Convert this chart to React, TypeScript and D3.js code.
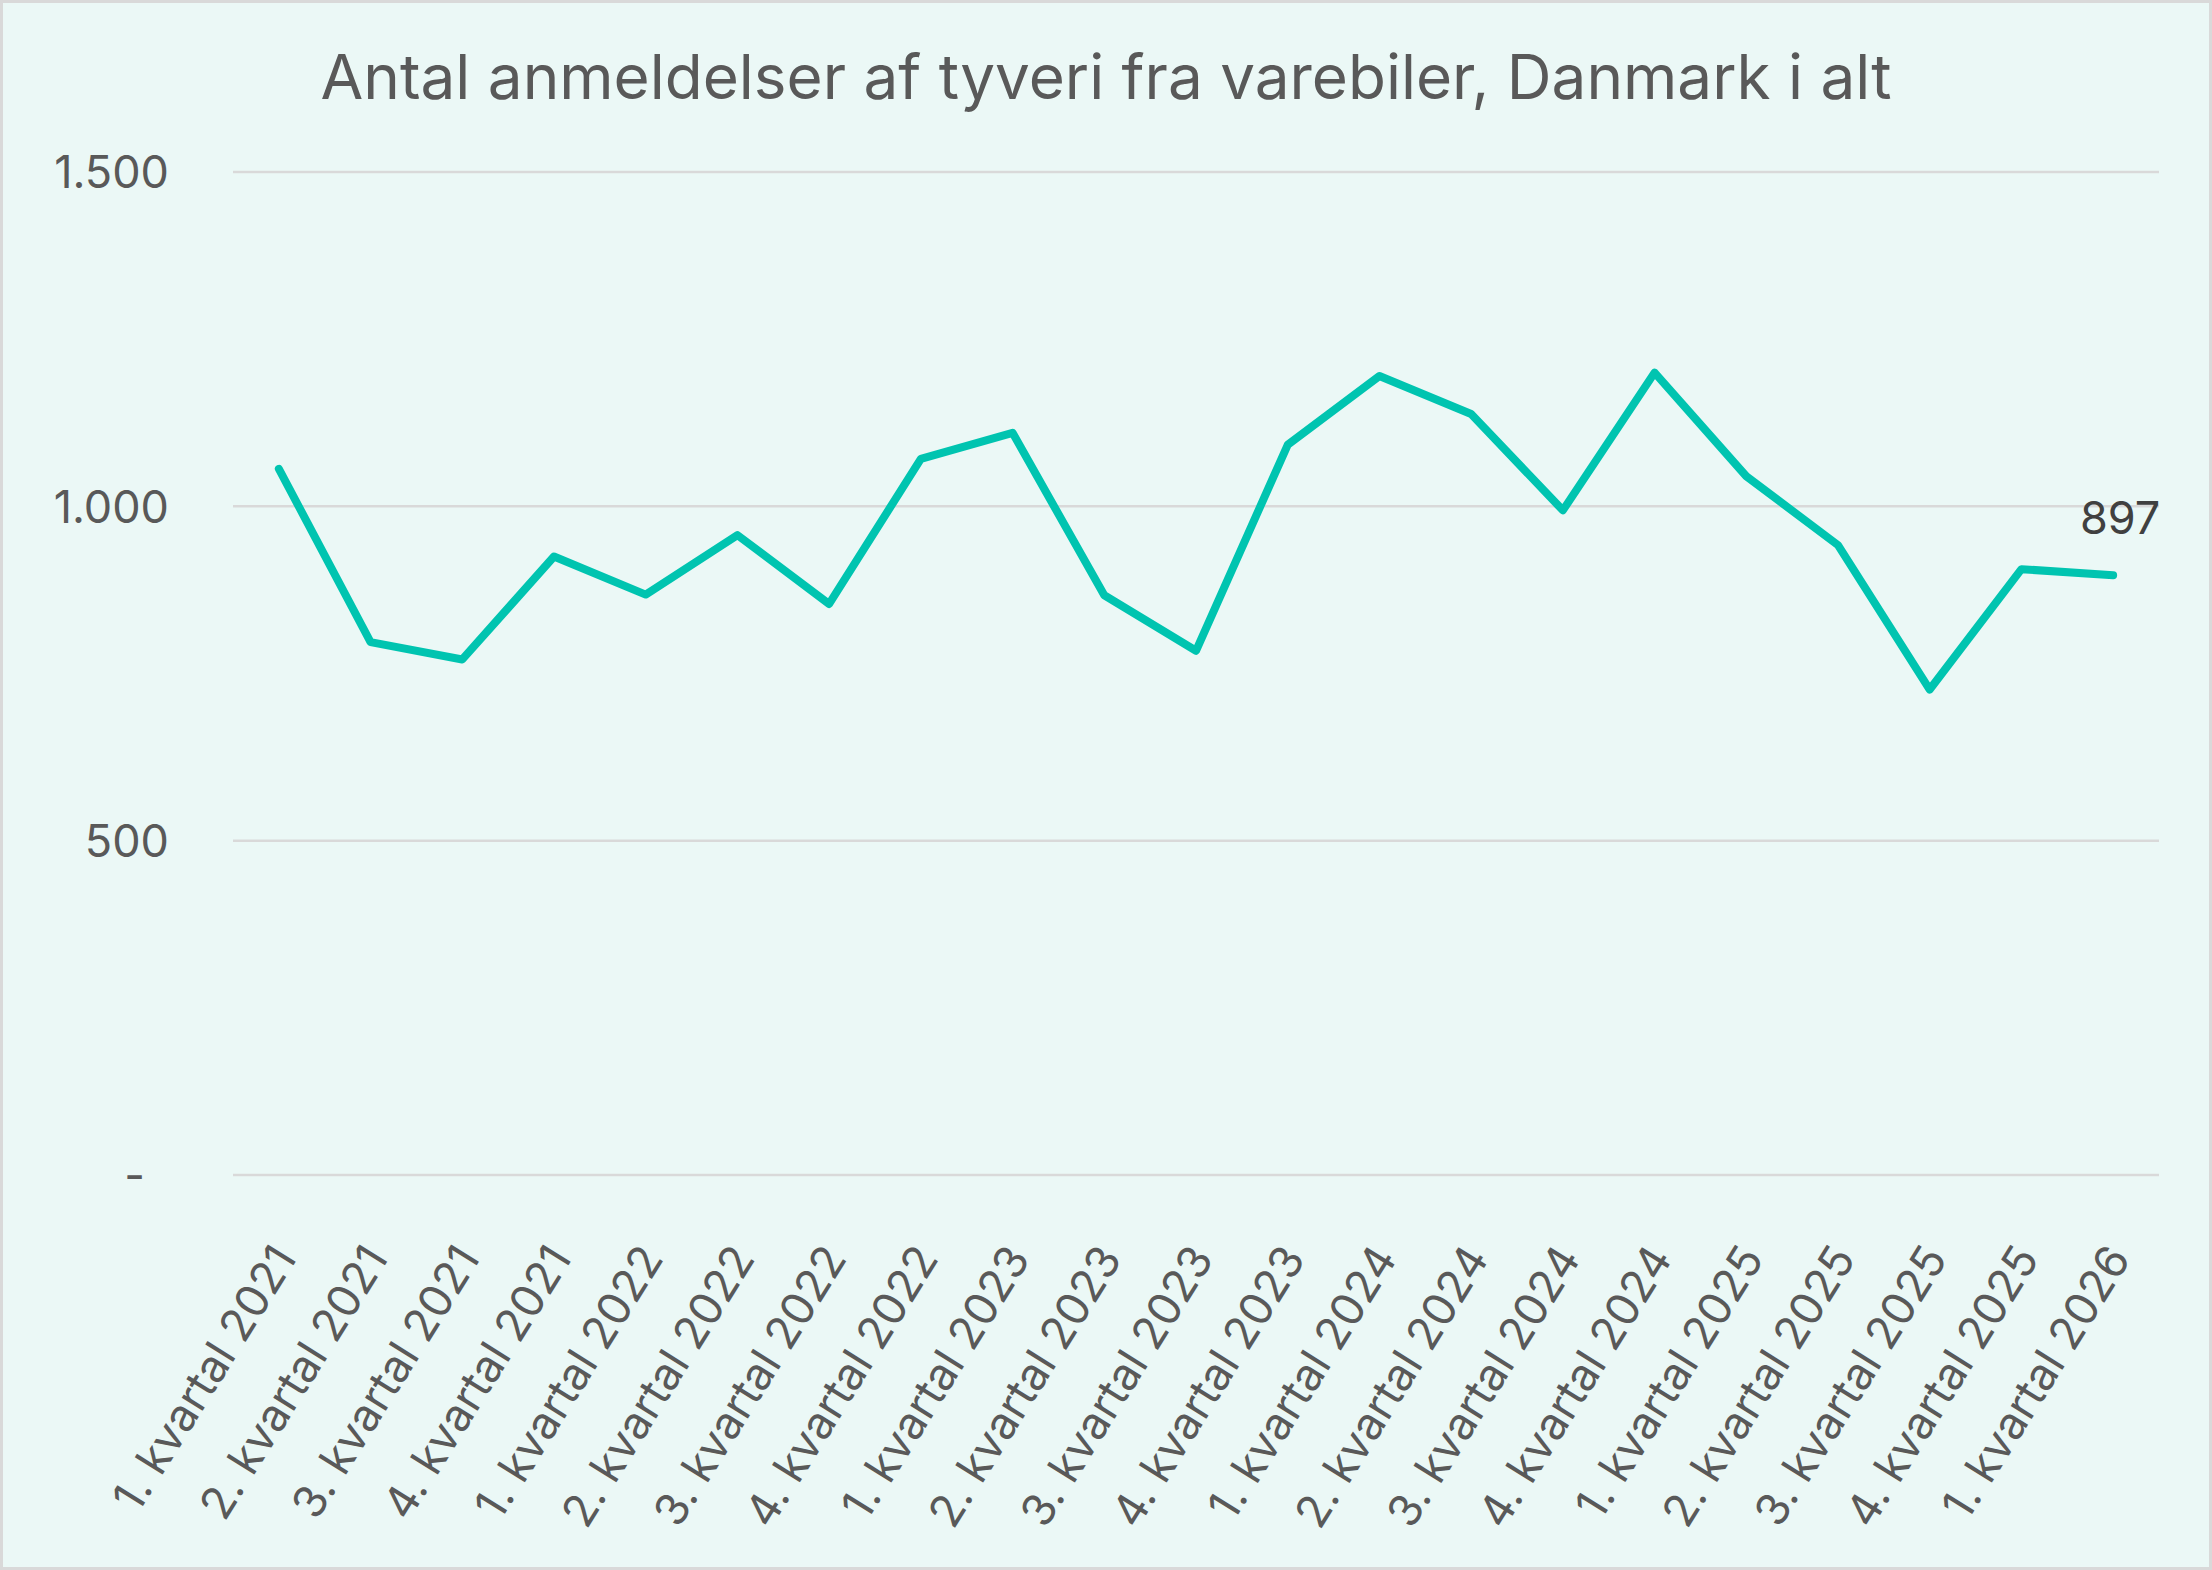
import React from "react";
import * as d3 from "d3";

// data
const title = "Antal anmeldelser af tyveri fra varebiler, Danmark i alt";
const quarters = [
  "1. kvartal 2021", "2. kvartal 2021", "3. kvartal 2021", "4. kvartal 2021",
  "1. kvartal 2022", "2. kvartal 2022", "3. kvartal 2022", "4. kvartal 2022",
  "1. kvartal 2023", "2. kvartal 2023", "3. kvartal 2023", "4. kvartal 2023",
  "1. kvartal 2024", "2. kvartal 2024", "3. kvartal 2024", "4. kvartal 2024",
  "1. kvartal 2025", "2. kvartal 2025", "3. kvartal 2025", "4. kvartal 2025",
  "1. kvartal 2026",
];
const counts = [
  1056, 797, 771, 925, 868, 957, 854, 1071, 1110, 867, 784, 1092,
  1195, 1138, 994, 1200, 1045, 942, 726, 906, 897,
];
const yTicks = [0, 500, 1000, 1500];

const W = 2212;
const H = 1570;
const margin = { top: 172, right: 53, bottom: 395, left: 233 };
const FONT = "Inter, 'Noto Sans', sans-serif";

const da = d3.formatLocale({
  decimal: ",",
  thousands: ".",
  grouping: [3],
  currency: ["", " kr."],
});
const fmt = da.format(",d");

const App: React.FC = () => {
  const x = d3
    .scalePoint<string>()
    .domain(quarters)
    .range([margin.left, W - margin.right])
    .padding(0.5);
  const y = d3
    .scaleLinear()
    .domain([0, 1500])
    .range([H - margin.bottom, margin.top]);

  const line = d3
    .line<number>()
    .x((_, i) => x(quarters[i]) as number)
    .y((d) => y(d));

  const last = counts.length - 1;
  const lastX = x(quarters[last]) as number;
  const lastY = y(counts[last]);

  return (
    <svg
      width={W}
      height={H}
      style={{ position: "absolute", left: 0, top: 0 }}
      fontFamily={FONT}
    >
      <rect
        x={1.5}
        y={1.5}
        width={W - 3}
        height={H - 3}
        fill="#EBF8F6"
        stroke="#D9D9D9"
        strokeWidth={3}
      />
      <text
        x={W / 2}
        y={99}
        textAnchor="middle"
        fontSize={62}
        fill="#595959"
      >
        {title}
      </text>

      {/* gridlines + y labels */}
      {yTicks.map((t) => (
        <g key={t}>
          <line
            x1={margin.left}
            x2={W - margin.right}
            y1={y(t)}
            y2={y(t)}
            stroke="#D9D9D9"
            strokeWidth={2.5}
          />
          <text
            x={t === 0 ? 145 : 169}
            y={y(t)}
            dy="0.36em"
            textAnchor="end"
            fontSize={45}
            fill="#595959"
          >
            {t === 0 ? "-" : fmt(t)}
          </text>
        </g>
      ))}

      {/* x labels */}
      {quarters.map((q) => (
        <text
          key={q}
          transform={`translate(${(x(q) as number) + 5},${1250}) rotate(-58)`}
          textAnchor="end"
          dy="0.36em"
          fontSize={45}
          fill="#595959"
        >
          {q}
        </text>
      ))}

      <path
        d={line(counts) || ""}
        fill="none"
        stroke="#00C4B0"
        strokeWidth={8}
        strokeLinejoin="round"
        strokeLinecap="round"
      />

      <text
        x={lastX + 7}
        y={lastY - 41}
        textAnchor="middle"
        fontSize={45}
        fill="#404040"
      >
        {counts[last]}
      </text>
    </svg>
  );
};

export default App;
